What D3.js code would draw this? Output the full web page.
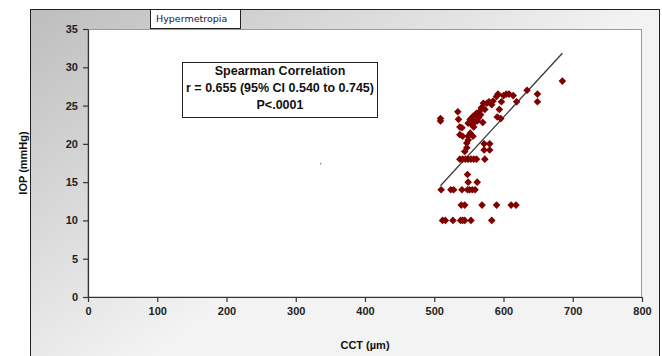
<!DOCTYPE html>
<html><head><meta charset="utf-8">
<script src="https://cdn.jsdelivr.net/npm/d3@7"></script>
<style>
html,body{margin:0;padding:0;background:#fff;}
svg{display:block;font-family:"Liberation Sans",Arial,sans-serif;}
</style></head>
<body><svg id="c" width="662" height="356"></svg>
<script>
// ---- data ----
const cct = [685,649,649,634,619,614,608,604,600,592,590,597,585,579,583,571,576,594,596,591,
  568,573,561,565,556,564,552,559,549,554,562,557,567,570,534,535,509,509,537,540,
  537,552,541,549,556,549,547,547,572,580,572,580,544,
  537,541,545,549,553,557,561,573,
  548,549,562,
  510,524,528,540,548,551,555,559,
  539,544,569,590,611,618,
  512,516,527,538,541,544,553,583];
const iop = [28.2,26.5,25.5,27,25.5,26.3,26.5,26.5,26.3,26.5,26.2,25.5,25.6,25.5,25.1,25.3,25.3,24.5,23.3,23.5,
  24.7,24.5,24.0,24.2,23.6,23.4,23.2,22.9,22.7,22.5,23.0,22.2,23.8,22.8,24.2,23.2,23.3,23.0,22.2,22.1,
  21.2,21.4,21,21,21,20.5,20.1,19.5,20,20,19.2,19.2,19,
  18,18,18,18,18,18,18,18,
  16,15,15,
  14,14,14,14,14,14,14,14,
  12,12,12,12,12,12,
  10,10,10,10,10,10,10,10];
const fitIntercept = -35.5, fitSlope = 0.0983;   // regression line IOP = a + b*CCT
const strayCct = [336], strayIop = [17.4];
const xTicks = [0,100,200,300,400,500,600,700,800];
const yTicks = [0,5,10,15,20,25,30,35];
const title = "Hypermetropia";
const statLines = ["Spearman Correlation","r = 0.655 (95% CI 0.540 to 0.745)","P<.0001"];
const xLabel = "CCT (µm)", yLabel = "IOP (mmHg)";

// ---- drawing ----
const svg = d3.select("#c");
const defs = svg.append("defs");
const g = defs.append("linearGradient").attr("id","bg").attr("gradientUnits","userSpaceOnUse")
  .attr("x1",30).attr("y1",9).attr("x2",230).attr("y2",300);
g.append("stop").attr("offset","0").attr("stop-color","#bdbdbd");
g.append("stop").attr("offset","1").attr("stop-color","#f3f3f3");

svg.append("rect").attr("x",30.5).attr("y",9.5).attr("width",629).attr("height",360)
  .attr("fill","url(#bg)").attr("stroke","#222").attr("stroke-width",1);

const x = d3.scaleLinear().domain([0,800]).range([88,642]);
const y = d3.scaleLinear().domain([0,35]).range([297,29]);

svg.append("rect").attr("x",88).attr("y",29.5).attr("width",553.5).attr("height",267.5)
  .attr("fill","#fff").attr("stroke","#9a9a9a").attr("stroke-width",1);

const ya = svg.append("g").attr("transform","translate(88,0)")
  .call(d3.axisLeft(y).tickValues(yTicks).tickSize(5).tickPadding(5).tickSizeOuter(0));
const xa = svg.append("g").attr("transform","translate(0,297)")
  .call(d3.axisBottom(x).tickValues(xTicks).tickSize(5).tickPadding(5).tickSizeOuter(0));
[ya,xa].forEach(a=>{
  a.selectAll("path,line").attr("stroke","#333").attr("stroke-width",1.2);
  a.selectAll("text").attr("font-size",11).attr("font-weight","bold").attr("fill","#222")
   .attr("font-family","'Liberation Sans',Arial,sans-serif");
});

// regression line
const xmin = d3.min(cct), xmax = d3.max(cct);
svg.append("line")
  .attr("x1",x(xmin)).attr("y1",y(fitIntercept+fitSlope*xmin))
  .attr("x2",x(xmax)).attr("y2",y(fitIntercept+fitSlope*xmax))
  .attr("stroke","#3a3a3a").attr("stroke-width",1.3);

// points
const pts = cct.map((c,i)=>({c, v: iop[i]}));
svg.append("g").selectAll("path").data(pts).join("path")
  .attr("d", d3.symbol(d3.symbolSquare, 29)())
  .attr("transform", d=>`translate(${x(d.c)},${y(d.v)}) rotate(45)`)
  .attr("fill","#800000");

svg.append("g").selectAll("circle").data(strayCct.map((c,i)=>({c,v:strayIop[i]}))).join("circle")
  .attr("cx",d=>x(d.c)).attr("cy",d=>y(d.v)).attr("r",0.8).attr("fill","#777");

// title box
svg.append("rect").attr("x",150.5).attr("y",9.5).attr("width",90).attr("height",19)
  .attr("fill","#fff").attr("stroke","#222");
svg.append("text").attr("x",156).attr("y",22).attr("fill","#15153a")
  .attr("font-family","'DejaVu Sans',Verdana,sans-serif").attr("font-size",9.5)
  .text(title);

// stats box
svg.append("rect").attr("x",182.5).attr("y",62.5).attr("width",195).attr("height",55)
  .attr("fill","#fff").attr("stroke","#222");
svg.append("g").selectAll("text").data(statLines).join("text")
  .attr("x",280).attr("y",(d,i)=>74.5+i*17).attr("text-anchor","middle")
  .attr("font-size",12.5).attr("font-weight","bold").attr("fill","#111").text(d=>d);

// axis labels
svg.append("text").attr("x",365).attr("y",349).attr("text-anchor","middle")
  .attr("font-size",11).attr("font-weight","bold").attr("fill","#111").text(xLabel);
svg.append("text").attr("transform","translate(27,163) rotate(-90)").attr("text-anchor","middle")
  .attr("font-size",11).attr("font-weight","bold").attr("fill","#111").text(yLabel);
</script></body></html>
